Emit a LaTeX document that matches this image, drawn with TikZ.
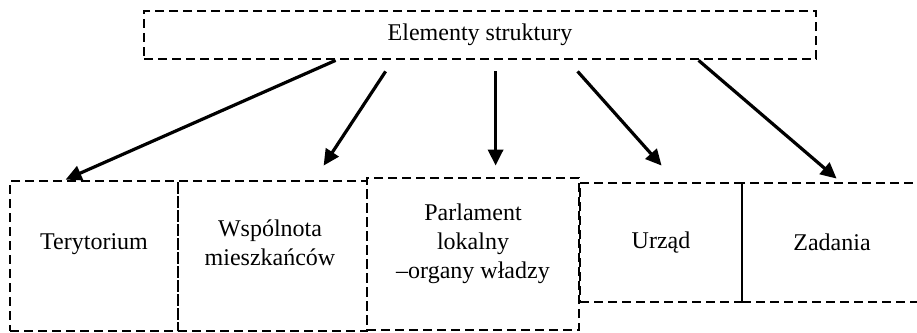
\documentclass[tikz,border=0pt]{standalone}
\usepackage{fontspec}
\setmainfont{Liberation Serif}
\usetikzlibrary{arrows.meta,positioning}

\begin{document}
\begin{tikzpicture}[x=1pt, y=-1pt,
            every node/.style={font=\fontsize{24}{29}\selectfont},
            box/.style={draw, rectangle, dash pattern=on 9pt off 5pt, line width=2.8pt, inner sep=0pt},
            txt/.style={align=center, inner sep=0pt},
            arr/.style={-{Triangle[length=16pt,width=15pt]}, line width=3.2pt}]
            \useasboundingbox (0,0) rectangle (917,332);

            % Top box
            \node[box, minimum width=672pt, minimum height=48pt] (E) at (480,35) {Elementy struktury};

            % Elements
            \node[box, minimum width=168pt, minimum height=150pt] (T) at (94,256) {};
            \node[box, minimum width=189pt, minimum height=150pt] (W) at (272.5,256) {};
            \node[box, minimum width=212pt, minimum height=152pt] (P) at (473,254) {};
            \node[box, minimum width=162pt, minimum height=119pt] (U) at (661,242.5) {Urząd};
            \node[box, minimum width=180pt, minimum height=119pt] (Z) at (832,242.5) {Zadania};

            % Texts
            \node[txt] (Tt) at (94,244) {Terytorium};
            \node[txt] (Wt) at (270,243) {Wspólnota\\mieszkańców};
            \node[txt] (Pt) at (473,244) {Parlament\\lokalny\\–organy władzy};

            % Arrows
            \draw[arr] ([xshift=193pt]E.south west) -- ([xshift=57pt]T.north west);
            \draw[arr] ([xshift=243pt,yshift=-11pt]E.south west) -- ([xshift=147pt,yshift=14pt]W.north west);
            \draw[arr] ([xshift=353pt,yshift=-11pt]E.south west) -- ([xshift=130pt,yshift=11pt]P.north west);
            \draw[arr] ([xshift=435pt,yshift=-11pt]E.south west) -- ([xshift=83pt,yshift=16pt]U.north west);
            \draw[arr] ([xshift=556pt]E.south west) -- ([xshift=96pt,yshift=3pt]Z.north west);
        \end{tikzpicture}
\end{document}
